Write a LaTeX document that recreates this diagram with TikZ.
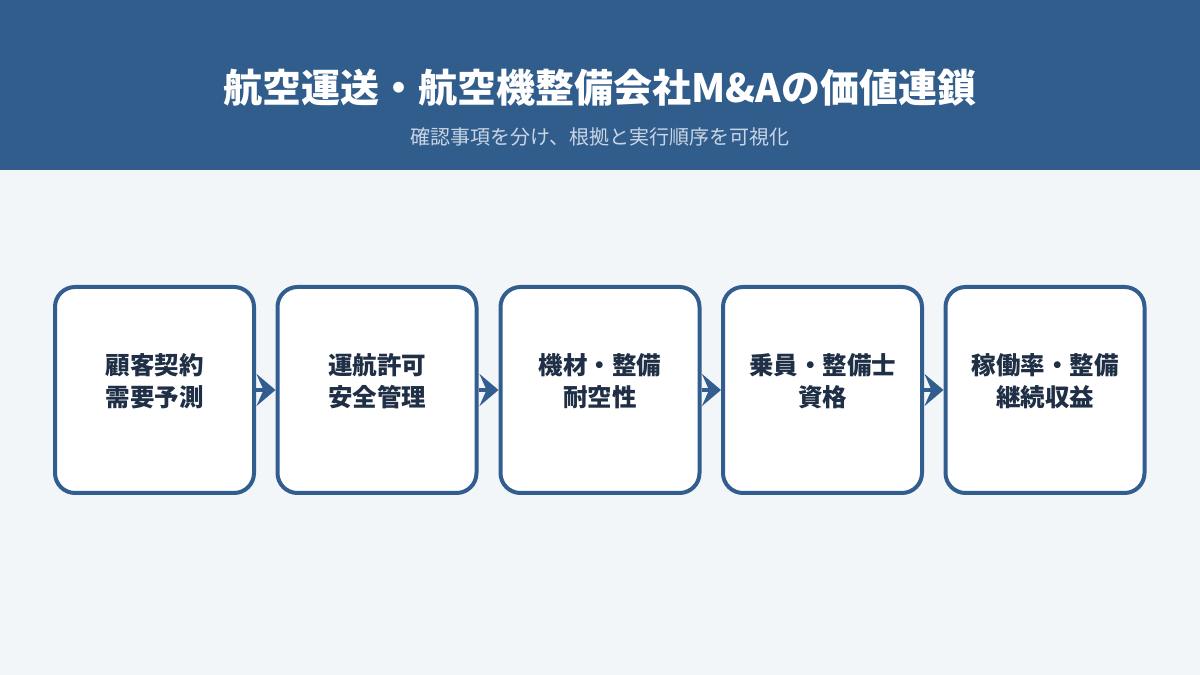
\documentclass[tikz,border=0pt]{standalone}
\usepackage{fontspec}
\newfontfamily\cjk{Noto Sans CJK JP}
\usetikzlibrary{arrows.meta}
\definecolor{band}{HTML}{315D8C}
\definecolor{frame}{HTML}{315E8F}
\definecolor{ink}{HTML}{1F2F45}
\definecolor{sub}{HTML}{C9D5E5}
\definecolor{paper}{HTML}{F3F6F8}
\tikzset{
  stage/.style={draw=frame, line width=4pt, fill=white, rounded corners=20pt,
    minimum width=199pt, minimum height=206pt},
  stagetext/.style={text=ink, align=center, font=\cjk\bfseries\fontsize{24.5}{32}\selectfont},
  flow/.style={draw=frame, line width=4pt, -{Stealth[length=19pt,width=32pt,inset=7pt]}}
}
\begin{document}
\begin{tikzpicture}[x=1pt, y=1pt]
\fill[paper](0,0) rectangle (1200,675);
\fill[band](0,505) rectangle (1200,675);
\useasboundingbox(0,0) rectangle (1200,675);
\node[text=white, font=\cjk\bfseries\fontsize{39}{44}\selectfont] (title) at (600,587)
  {航空運送・航空機整備会社M\&Aの価値連鎖};
\node[text=sub, font=\cjk\fontsize{20}{24}\selectfont] (subtitle) at (600,538)
  {確認事項を分け、根拠と実行順序を可視化};
\node[stage] (b1) at (154.5,285) {};
\node[stage] (b2) at (377,285) {};
\node[stage] (b3) at (600,285) {};
\node[stage] (b4) at (822.5,285) {};
\node[stage] (b5) at (1045,285) {};
\node[stagetext] (t1) at ([yshift=9pt]b1.center) {顧客契約\\需要予測};
\node[stagetext] (t2) at ([yshift=9pt]b2.center) {運航許可\\安全管理};
\node[stagetext] (t3) at ([yshift=9pt]b3.center) {機材・整備\\耐空性};
\node[stagetext] (t4) at ([yshift=9pt]b4.center) {乗員・整備士\\資格};
\node[stagetext] (t5) at ([yshift=9pt]b5.center) {稼働率・整備\\継続収益};
\draw[flow](b1.east)--(b2.west);
\draw[flow](b2.east)--(b3.west);
\draw[flow](b3.east)--(b4.west);
\draw[flow](b4.east)--(b5.west);
\end{tikzpicture}
\end{document}
